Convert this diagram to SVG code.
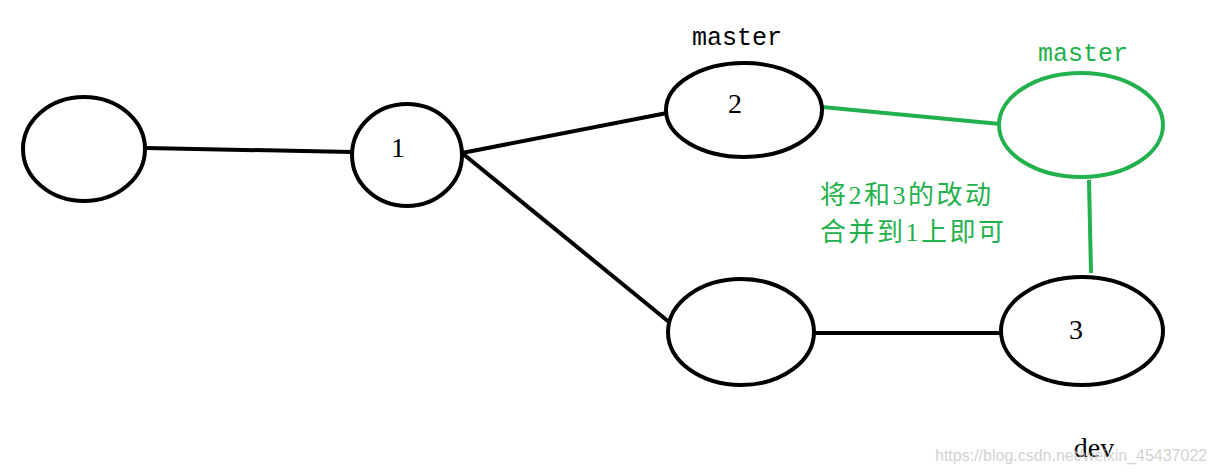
<svg xmlns="http://www.w3.org/2000/svg" width="1216" height="475" viewBox="0 0 1216 475">
<style>
.nb{fill:none;stroke:#000;stroke-width:4}
.ng{fill:none;stroke:#22b14c;stroke-width:4}
.lb{stroke:#000;stroke-width:4;fill:none}
.lg{stroke:#22b14c;stroke-width:4;fill:none}
.num{font-family:"Liberation Serif",serif;font-size:28px;fill:#000;text-anchor:middle}
.mono{font-family:"Liberation Mono",monospace;font-size:25px}
.cn{font-family:"Liberation Serif","Noto Sans CJK SC",sans-serif;font-size:26px;fill:#22b14c;letter-spacing:2.5px}
.wm{font-family:"Liberation Sans",sans-serif;font-size:16px;fill:#c8c8c8;opacity:0.8}
</style>
<rect width="1216" height="475" fill="#fff"/>
<g id="connectors">
<line class="lb" x1="146" y1="148" x2="352" y2="152"/>
<line class="lb" x1="462" y1="153" x2="667" y2="113"/>
<line class="lb" x1="462" y1="153" x2="669" y2="322"/>
<line class="lb" x1="815" y1="333" x2="1002" y2="333"/>
<line class="lg" x1="822" y1="107" x2="1000" y2="124"/>
<line class="lg" x1="1089" y1="180" x2="1091" y2="273"/>
</g>
<g id="node-a"><ellipse class="nb" cx="84" cy="149" rx="61" ry="52"/></g>
<g id="node-1"><ellipse class="nb" cx="407" cy="155" rx="55" ry="51"/><text class="num" x="398" y="157">1</text></g>
<g id="node-2"><ellipse class="nb" cx="744" cy="110" rx="78" ry="47"/><text class="num" x="735" y="113">2</text><text class="mono" x="737" y="45" text-anchor="middle" fill="#000">master</text></g>
<g id="node-green"><ellipse class="ng" cx="1081" cy="125" rx="82" ry="52"/><text class="mono" x="1083" y="61" text-anchor="middle" fill="#22b14c">master</text></g>
<g id="node-b"><ellipse class="nb" cx="741" cy="332" rx="73" ry="53"/></g>
<g id="node-3"><ellipse class="nb" cx="1082" cy="331" rx="81" ry="54"/><text class="num" x="1076" y="339">3</text><text class="num" x="1094" y="457" font-size="30">dev</text></g>
<g id="note"><text class="cn" x="820" y="204">将2和3的改动</text><text class="cn" x="820" y="241">合并到1上即可</text></g>
<text class="wm" x="935" y="461">https://blog.csdn.net/weixin_45437022</text>
</svg>
